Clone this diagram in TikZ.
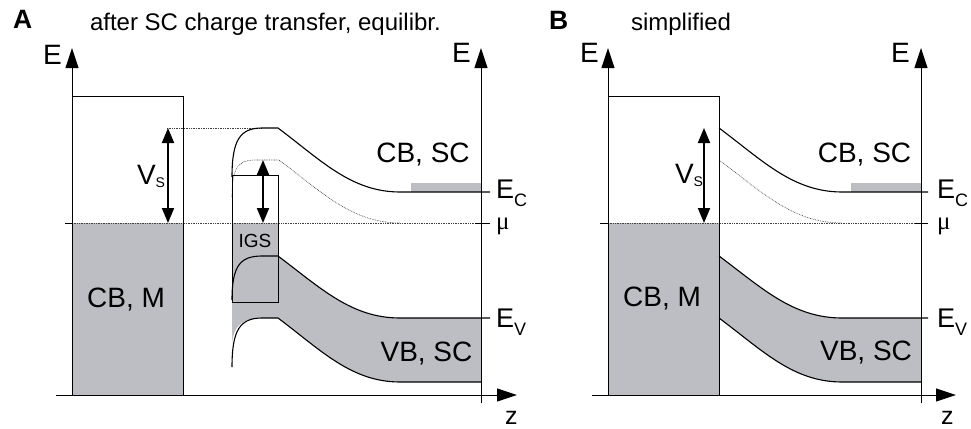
\documentclass[tikz,border=0pt]{standalone}
\usepackage{fontspec}
\setmainfont{Liberation Sans}
\newfontfamily\mufont{Liberation Serif}
\usepackage{xcolor}
\usetikzlibrary{arrows.meta}

\definecolor{bandgray}{RGB}{189,190,195}
\newcommand{\bandsub}[1]{\raisebox{-8pt}{\fontsize{18}{18}\selectfont #1}}
\newcommand{\vssub}[1]{\raisebox{-3pt}{\fontsize{14}{14}\selectfont #1}}

\begin{document}
\begin{tikzpicture}[
        x=1pt, y=-1pt,
        every node/.style={inner sep=0pt, outer sep=0pt},
        panellabel/.style={font=\fontsize{26.5}{26.5}\selectfont\bfseries, anchor=base west},
        headline/.style={font=\fontsize{24}{24}\selectfont, anchor=base west},
        axislabel/.style={font=\fontsize{28}{28}\selectfont, anchor=base west},
        bandlabel/.style={font=\fontsize{28}{28}\selectfont, anchor=base},
        levellabel/.style={font=\fontsize{27}{27}\selectfont, anchor=base west},
        mulabel/.style={font=\mufont\fontsize{25}{25}\selectfont, anchor=base west},
        bandline/.style={line width=1.1pt, line join=round},
        boxline/.style={line width=1pt},
        fermiline/.style={line width=0.6pt, dash pattern=on 0.8pt off 0.9pt, draw=black!75},
        ticks/.style={line width=0.8pt},
        axisarrow/.style={line width=1pt, -{Triangle[length=20pt,width=13pt]}},
        gaparrow/.style={line width=2pt, {Triangle[length=15pt,width=12pt]}-{Triangle[length=15pt,width=12pt]}}
    ]
        \useasboundingbox (0,0) rectangle (971,428);

        % Panel A
        \node[panellabel] (labA) at (13,29) {A};
        \node[headline] (capA) at (90,31) {after SC charge transfer, equilibr.};

        % metal and semiconductor fills
        \fill[bandgray] (72,223) rectangle (183,395);
        \fill[bandgray] (232,223) -- (278,223) -- (278,256)
            .. controls (320.7,288) and (351.2,318) .. (400,318) -- (481,318) -- (481,382) -- (400,382)
            .. controls (351.2,382) and (320.7,350) .. (278,318) -- (262,318)
            .. controls (240,318) and (233,328) .. (232,345) -- cycle;
        \fill[bandgray] (411,183) rectangle (481,192);

        % Fermi level and dotted band
        \draw[fermiline] (72,223) -- (475,223);
        \draw[fermiline] (167,128) -- (262,128);
        \draw[fermiline] (232,197) .. controls (232,168) and (238,160) .. (255,160) -- (279,160)
            .. controls (321.7,192) and (352.2,223) .. (400,223);
        \draw[ticks] (65,223) -- (72,223);
        \draw[ticks] (475,223) -- (490,223);

        % bands
        \draw[boxline] (72,96) rectangle (183,395);
        \draw[boxline] (232,175) rectangle (278,302);
        \draw[bandline] (232,177) .. controls (232,140) and (240,128) .. (262,128) -- (278,128)
            .. controls (320.7,160) and (351.2,192) .. (400,192) -- (490,192);
        \draw[bandline] (232,300) .. controls (232,266) and (240,256) .. (262,256) -- (278,256)
            .. controls (320.7,288) and (351.2,318) .. (400,318) -- (490,318);
        \draw[bandline] (232,367) .. controls (232,330) and (240,318) .. (262,318) -- (278,318)
            .. controls (320.7,350) and (351.2,382) .. (400,382) -- (481,382);

        % axes
        \coordinate (aLeftBot) at (72,395);
        \coordinate (aLeftTop) at (72,48);
        \coordinate (aRightBot) at (481,403);
        \coordinate (aRightTop) at (481,48);
        \coordinate (aZStart) at (56,395);
        \coordinate (aZEnd) at (517,395);
        \draw[axisarrow] (aLeftBot) -- (aLeftTop);
        \draw[axisarrow] (aRightBot) -- (aRightTop);
        \draw[axisarrow] (aZStart) -- (aZEnd);

        % gap arrows
        \coordinate (aVsTop) at (168,128);
        \coordinate (aVsBot) at (168,223);
        \coordinate (igsTop) at (263,160);
        \coordinate (igsBot) at (263,223);
        \draw[gaparrow] (aVsTop) -- (aVsBot);
        \draw[gaparrow] (igsTop) -- (igsBot);

        % labels
        \node[axislabel] (aEleft) at (43,64) {E};
        \node[axislabel] (aEright) at (452,63) {E};
        \node[axislabel, font=\fontsize{25}{25}\selectfont] (aZ) at (505,424) {z};
        \node[axislabel] (aVs) at (137,184) {V\vssub{S}};
        \node[bandlabel, font=\fontsize{19}{19}\selectfont] (igs) at (255,247) {IGS};
        \node[bandlabel] (aCBM) at (126,307) {CB, M};
        \node[bandlabel] (aCBSC) at (423,162) {CB, SC};
        \node[bandlabel] (aVBSC) at (426.5,361) {VB, SC};
        \node[levellabel] (aEc) at (496,198) {E\bandsub{C}};
        \node[mulabel] (aMu) at (496,229) {μ};
        \node[levellabel] (aEv) at (496,327) {E\bandsub{V}};

        % Panel B
        \node[panellabel] (labB) at (549,30) {B};
        \node[headline] (capB) at (631,31) {simplified};

        % metal and semiconductor fills
        \fill[bandgray] (608,223) rectangle (719,395);
        \fill[bandgray] (719,256)
            .. controls (762,288) and (792.8,318) .. (842,318) -- (921,318) -- (921,382) -- (842,382)
            .. controls (792.8,382) and (762,350) .. (719,318) -- cycle;
        \fill[bandgray] (851,183) rectangle (921,192);

        % Fermi level and dotted band
        \draw[fermiline] (608,223) -- (915,223);
        \draw[fermiline] (719,160) .. controls (762,192) and (792.8,223) .. (842,223);
        \draw[ticks] (600,223) -- (608,223);
        \draw[ticks] (915,223) -- (928,223);

        % bands
        \draw[boxline] (608,96) rectangle (719,395);
        \draw[bandline] (719,128) .. controls (762,160) and (792.8,192) .. (842,192) -- (928,192);
        \draw[bandline] (719,256) .. controls (762,288) and (792.8,318) .. (842,318) -- (928,318);
        \draw[bandline] (719,318) .. controls (762,350) and (792.8,382) .. (842,382) -- (921,382);

        % axes
        \coordinate (bLeftBot) at (608,395);
        \coordinate (bLeftTop) at (608,48);
        \coordinate (bRightBot) at (921,403);
        \coordinate (bRightTop) at (921,48);
        \coordinate (bZStart) at (592,395);
        \coordinate (bZEnd) at (956,395);
        \draw[axisarrow] (bLeftBot) -- (bLeftTop);
        \draw[axisarrow] (bRightBot) -- (bRightTop);
        \draw[axisarrow] (bZStart) -- (bZEnd);

        % gap arrow
        \coordinate (bVsTop) at (704,128);
        \coordinate (bVsBot) at (704,223);
        \draw[gaparrow] (bVsTop) -- (bVsBot);

        % labels
        \node[axislabel] (bEleft) at (580,63) {E};
        \node[axislabel] (bEright) at (891,63) {E};
        \node[axislabel, font=\fontsize{25}{25}\selectfont] (bZ) at (941,424) {z};
        \node[axislabel] (bVs) at (675,183) {V\vssub{S}};
        \node[bandlabel] (bCBM) at (662,306) {CB, M};
        \node[bandlabel] (bCBSC) at (864.5,162) {CB, SC};
        \node[bandlabel] (bVBSC) at (866,360) {VB, SC};
        \node[levellabel] (bEc) at (937,198) {E\bandsub{C}};
        \node[mulabel] (bMu) at (937,229) {μ};
        \node[levellabel] (bEv) at (937,327) {E\bandsub{V}};

    \end{tikzpicture}
\end{document}
